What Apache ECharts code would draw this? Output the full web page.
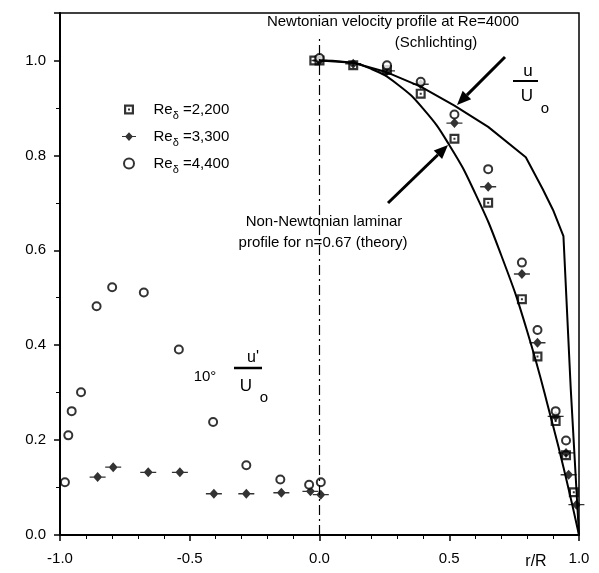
<!DOCTYPE html>
<html>
<head>
<meta charset="utf-8">
<script src="https://cdn.jsdelivr.net/npm/echarts@6/dist/echarts.min.js"></script>
<style>
  html, body { margin: 0; padding: 0; background: #fff; }
  #main { width: 599px; height: 573px; }
</style>
</head>
<body>
<div id="main"></div>
<script>
// velocity profile u/U0 and turbulence 10*u'/U0 vs r/R
var reNames = ['2,200', '3,300', '4,400'];

// Re=2,200 (squares) u/U0
var uU2200 = [[-0.02,1.0],[0,1.0],[0.13,0.99],[0.26,0.98],[0.39,0.93],[0.52,0.835],[0.65,0.70],[0.78,0.497],[0.84,0.376],[0.91,0.24],[0.95,0.168],[0.98,0.09]];
// Re=3,300 (diamonds) u/U0 and u'
var uU3300 = [[0,1.0],[0.13,0.993],[0.26,0.978],[0.39,0.95],[0.52,0.868],[0.65,0.734],[0.78,0.55],[0.84,0.405],[0.91,0.25],[0.95,0.173],[0.96,0.127],[0.99,0.064]];
var uPrime3300 = [[-0.855,0.122],[-0.795,0.143],[-0.66,0.132],[-0.538,0.132],[-0.407,0.087],[-0.282,0.087],[-0.147,0.089],[-0.035,0.092],[0.005,0.085]];
// Re=4,400 (circles) u/U0 and u'
var uU4400 = [[0,1.005],[0.26,0.99],[0.39,0.955],[0.52,0.886],[0.65,0.771],[0.78,0.574],[0.84,0.432],[0.91,0.261],[0.95,0.199]];
var uPrime4400 = [[-0.981,0.111],[-0.968,0.21],[-0.955,0.261],[-0.919,0.301],[-0.859,0.482],[-0.799,0.522],[-0.677,0.511],[-0.542,0.391],[-0.41,0.238],[-0.282,0.147],[-0.151,0.117],[-0.04,0.106],[0.005,0.111]];

// Newtonian profile Re=4000 (Schlichting)
var newtonian = [[0,1.0],[0.13,0.995],[0.26,0.975],[0.39,0.945],[0.52,0.905],[0.65,0.86],[0.795,0.796],[0.86,0.729],[0.9,0.685],[0.94,0.63],[0.968,0.31],[1.0,0.0]];
// non-Newtonian laminar n=0.67
var nonNewtonian = [[0,1.0],[0.1,0.997],[0.2,0.982],[0.3,0.95],[0.4,0.898],[0.5,0.822],[0.6,0.72],[0.7,0.59],[0.8,0.43],[0.9,0.23],[0.95,0.12],[1.0,0.0]];
// centre line
var centreLine = [[0,0],[0,1.045]];

var font = 'Liberation Sans, Arial, sans-serif';
var symSquare = 'path://M0,0H10V10H0Z M2.2,2.2V7.8H7.8V2.2Z M4,4H6V6H4Z';
var symDiamond = 'path://M8,0L12.5,5L8,10L3.5,5Z M0,4.3H16V5.7H0Z';

function arrow(x1, y1, x2, y2) {
	var dx = x2 - x1, dy = y2 - y1;
	var len = Math.sqrt(dx * dx + dy * dy);
	var ux = dx / len, uy = dy / len;
	var bx = x2 - ux * 14, by = y2 - uy * 14;
	return [
		{ type: 'line', shape: { x1: x1, y1: y1, x2: bx, y2: by }, style: { stroke: '#000', lineWidth: 3 } },
		{ type: 'polygon', shape: { points: [[x2, y2], [bx - uy * 6, by + ux * 6], [bx + uy * 6, by - ux * 6]] }, style: { fill: '#000' } }
	];
}

function txt(x, y, s, size, align) {
	return { type: 'text', x: x, y: y, style: { text: s, fill: '#000', font: (size || 15) + 'px ' + font, align: align || 'center', verticalAlign: 'middle' } };
}

var dom = document.getElementById('main');
var myChart = echarts.init(dom);
var option = {
	animation: false,
	backgroundColor: '#fff',
	grid: { left: 60, right: 20, top: 13, bottom: 38, show: true, borderColor: '#000', borderWidth: 1.5, backgroundColor: 'transparent' },
	legend: {
		orient: 'vertical',
		left: 117,
		top: 97,
		itemWidth: 14,
		itemHeight: 10,
		itemGap: 8,
		data: reNames,
		formatter: function (name) {
			return '{re|   Re}{sub|δ}{re| =' + name + '}';
		},
		textStyle: {
			color: '#000',
			fontFamily: font,
			fontSize: 15,
			rich: {
				re: { fontSize: 15, fontFamily: font },
				sub: { fontSize: 11, fontFamily: font, padding: [12, 0, 0, 0] }
			}
		}
	},
	xAxis: {
		type: 'value',
		min: -1,
		max: 1,
		interval: 0.5,
		axisLine: { onZero: false, lineStyle: { color: '#000', width: 2 } },
		axisTick: { length: 6, lineStyle: { color: '#000', width: 1.5 } },
		minorTick: { show: true, splitNumber: 5, length: 4, lineStyle: { color: '#000' } },
		splitLine: { show: false },
		axisLabel: { color: '#000', fontSize: 15, fontFamily: font, margin: 16, formatter: function (v) { return v.toFixed(1); } }
	},
	yAxis: {
		type: 'value',
		min: 0,
		max: 1.1,
		interval: 0.2,
		axisLine: { onZero: false, lineStyle: { color: '#000', width: 2 } },
		axisTick: { length: 6, lineStyle: { color: '#000', width: 1.5 } },
		minorTick: { show: true, splitNumber: 2, length: 4, lineStyle: { color: '#000' } },
		splitLine: { show: false },
		axisLabel: { color: '#000', fontSize: 15, fontFamily: font, margin: 14, showMaxLabel: false, formatter: function (v) { return v.toFixed(1); } }
	},
	series: [
		{
			name: 'centre', type: 'line', data: centreLine, symbol: 'none', silent: true,
			lineStyle: { color: '#000', width: 1.2, type: [10, 4, 2, 4] }
		},
		{
			name: 'newtonian', type: 'line', data: newtonian, symbol: 'none',
			lineStyle: { color: '#000', width: 2 }
		},
		{
			name: 'nonNewtonian', type: 'line', data: nonNewtonian, symbol: 'none', smooth: true,
			lineStyle: { color: '#000', width: 2 }
		},
		{
			name: reNames[0], type: 'scatter', data: uU2200, symbol: symSquare, symbolSize: [10, 10],
			itemStyle: { color: '#000' }
		},
		{
			name: reNames[1], type: 'scatter', data: uPrime3300.concat(uU3300), symbol: symDiamond, symbolSize: [16, 10],
			itemStyle: { color: '#000' }
		},
		{
			name: reNames[2], type: 'scatter', data: uPrime4400.concat(uU4400), symbol: 'emptyCircle', symbolSize: 8,
			itemStyle: { color: '#000', borderWidth: 2.5 }
		}
	],
	graphic: [].concat(
		arrow(505, 57, 457, 105),
		arrow(388, 203, 448, 145),
		[
			txt(393, 22, 'Newtonian velocity profile at Re=4000'),
			txt(436, 43, '(Schlichting)'),
			txt(324, 222, 'Non-Newtonian laminar'),
			txt(323, 243, 'profile for n=0.67 (theory)'),
			txt(528, 71, 'u', 17),
			{ type: 'line', shape: { x1: 513, y1: 81, x2: 538, y2: 81 }, style: { stroke: '#000', lineWidth: 2 } },
			txt(527, 96, 'U', 17),
			txt(545, 109, 'o', 15),
			txt(205, 377, '10°', 15),
			{ type: 'line', shape: { x1: 234, y1: 368, x2: 262, y2: 368 }, style: { stroke: '#000', lineWidth: 2.5 } },
			txt(253, 358, "u'", 16),
			txt(246, 386, 'U', 17),
			txt(264, 398, 'o', 15),
			txt(536, 562, 'r/R', 16)
		]
	)
};
if (option && typeof option === "object") {
	myChart.setOption(option, true);
}
</script>
</body>
</html>
